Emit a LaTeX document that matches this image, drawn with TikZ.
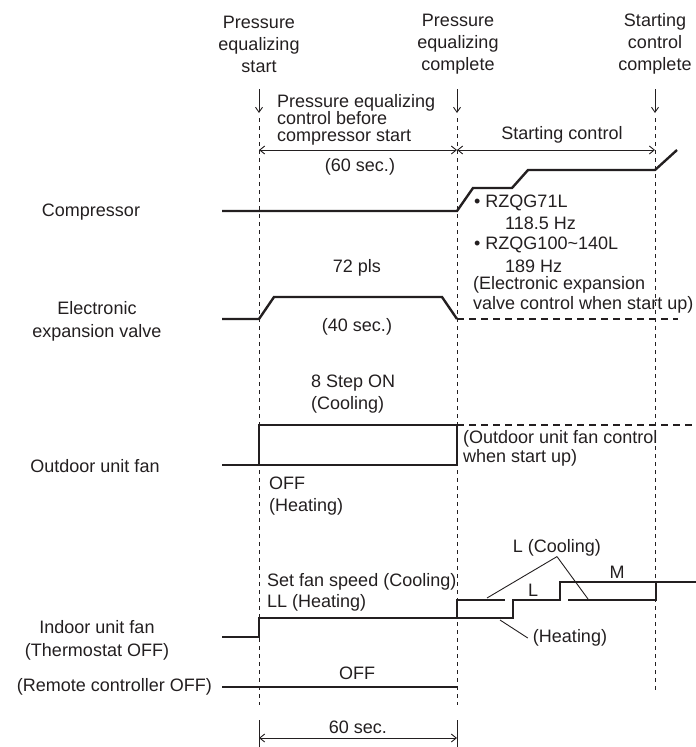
\documentclass[tikz,border=0pt]{standalone}
\usepackage{fontspec}
\setmainfont{Liberation Sans}
\usepackage{tikz}
\usetikzlibrary{arrows.meta}
\definecolor{tcnoir}{HTML}{231F20}

\begin{document}
\begin{tikzpicture}[x=1pt, y=-1pt, every node/.style={font=\fontsize{18}{22}\selectfont, inner sep=0pt, text=tcnoir},
  sig/.style={tcnoir, line width=2.4pt},
  sigdash/.style={tcnoir, line width=2pt, dash pattern=on 7pt off 5pt},
  guide/.style={tcnoir, line width=0.9pt, dash pattern=on 4pt off 4pt},
  dimline/.style={tcnoir, line width=0.9pt, {Straight Barb[length=5pt,width=8pt]}-{Straight Barb[length=5pt,width=8pt]}},
  lead/.style={tcnoir, line width=0.9pt}]
  \useasboundingbox (0,0) rectangle (696,747);
  % time marks
  \node[align=center] (pestart) at (259,44) {Pressure\\equalizing\\start};
  \node[align=center] (pecomp) at (458,44) {Pressure\\equalizing\\complete};
  \node[align=center] (sccomp) at (655,44) {Starting\\control\\complete};
  \foreach \x in {259,457,655} {
    \draw[lead,-{Straight Barb[length=5pt,width=7pt]}] (\x,89) -- (\x,113);
  }
  \draw[guide] (259,118) -- (259,705);
  \draw[guide] (457,118) -- (457,705);
  \draw[guide] (655,118) -- (655,693);
  % phases
  \node[anchor=west, align=left, font=\fontsize{18}{16.8}\selectfont] (pectrl) at (277,120) {Pressure equalizing\\control before\\compressor start};
  \node (stctrl) at (562,135) {Starting control};
  \draw[dimline] (259,150) -- (457,150);
  \draw[dimline] (457,150) -- (655,150);
  \node (sec60a) at (360,167) {(60 sec.)};
  % compressor
  \node (lbcomp) at (91,212) {Compressor};
  \draw[sig] (222,211) -- (457,211) -- (473,188) -- (512,188) -- (528,170) -- (655,170) -- (677,150);
  \node[anchor=west] (m71) at (474,203) {• RZQG71L};
  \node[anchor=west] (hz71) at (505,223) {118.5 Hz};
  \node[anchor=west] (m140) at (474,245) {• RZQG100\textasciitilde140L};
  \node[anchor=west] (hz140) at (505,266) {189 Hz};
  \node[anchor=west, align=left, font=\fontsize{18}{20}\selectfont] (eevctrl) at (473,295) {(Electronic expansion\\valve control when start up)};
  % electronic expansion valve
  \node[align=center, font=\fontsize{18}{23}\selectfont] (lbeev) at (97,321) {Electronic\\expansion valve};
  \draw[sig] (222,319) -- (259,319) -- (274,297) -- (442,297) -- (457,319);
  \draw[sigdash] (457,319) -- (678,319);
  \node (pls) at (357,268) {72 pls};
  \node (sec40) at (357,327) {(40 sec.)};
  % outdoor unit fan
  \node (lbofan) at (95,466) {Outdoor unit fan};
  \draw[sig] (222,465) -- (259,465);
  \draw[sig] (259,425) rectangle (457,465);
  \draw[sigdash] (457,425) -- (696,425);
  \node[anchor=west, align=left] (stepon) at (311,394) {8 Step ON\\(Cooling)};
  \node[anchor=west, align=left, font=\fontsize{18}{19}\selectfont] (ofanctrl) at (463,448) {(Outdoor unit fan control\\when start up)};
  \node[anchor=west, align=left] (ofoff) at (269,496) {OFF\\(Heating)};
  % indoor unit fan
  \node[align=center, font=\fontsize{18}{23}\selectfont] (lbifan) at (97,640) {Indoor unit fan\\(Thermostat OFF)};
  \draw[sig] (222,637) -- (259,637) -- (259,618) -- (513,618) -- (513,600) -- (560,600) -- (560,582) -- (696,582);
  \draw[sig] (457,618) -- (457,600) -- (505,600);
  \draw[sig] (568,600) -- (656,600) -- (656,582);
  \node[anchor=west, align=left, font=\fontsize{18}{21}\selectfont] (setfan) at (267,592) {Set fan speed (Cooling)\\LL (Heating)};
  \node (lowl) at (533,590) {L};
  \node (medm) at (617,572) {M};
  \node (lcool) at (557,548) {L (Cooling)};
  \draw[lead] (lcool.south) -- (487,598);
  \draw[lead] (lcool.south) -- (588,599);
  \node (lheat) at (570,638) {(Heating)};
  \draw[lead] (500,620) -- ([xshift=-5pt]lheat.west);
  % remote controller
  \node[anchor=east] (lbremote) at (212,687) {(Remote controller OFF)};
  \draw[sig] (222,687) -- (457,687);
  \node (rcoff) at (357,673) {OFF};
  % 60 sec
  \draw[lead] (259,720) -- (259,747);
  \draw[lead] (457,720) -- (457,747);
  \draw[dimline] (259,738) -- (457,738);
  \node (sec60b) at (358,727) {60 sec.};
\end{tikzpicture}
\end{document}
